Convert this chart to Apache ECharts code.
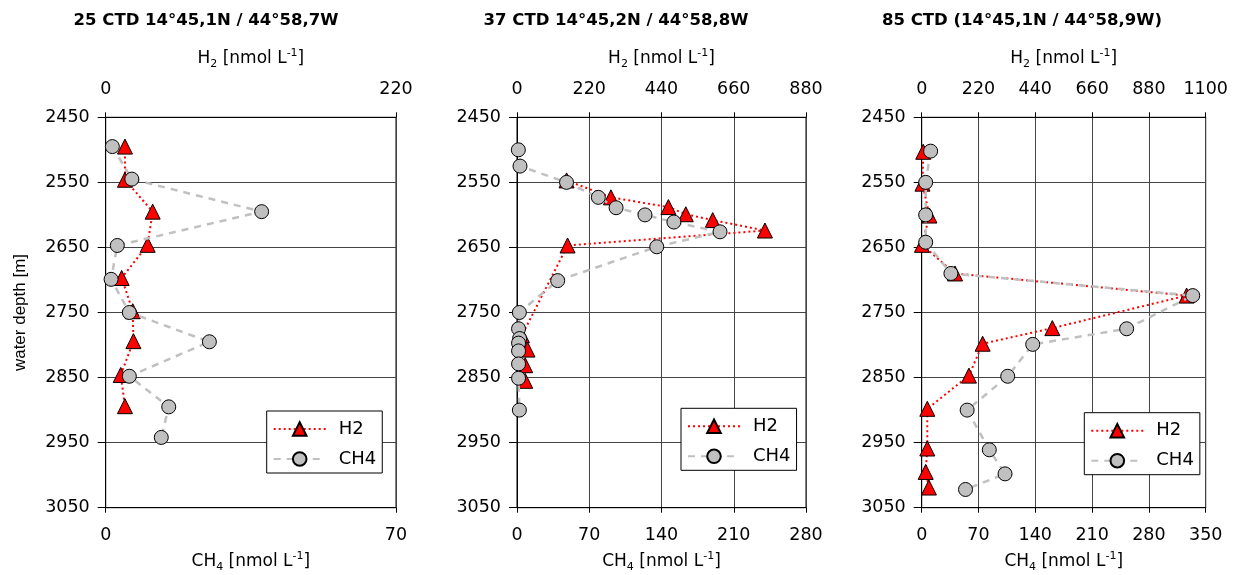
<!DOCTYPE html>
<html><head><meta charset="utf-8">
<script src="https://cdn.jsdelivr.net/npm/echarts@6/dist/echarts.min.js"></script>
<style>html,body{margin:0;padding:0;background:#fff}#c{width:1240px;height:575px}</style>
</head><body><div id="c"></div>
<script>
// ---------- data ----------
const titles = ['25 CTD 14°45,1N / 44°58,7W', '37 CTD 14°45,2N / 44°58,8W', '85 CTD (14°45,1N / 44°58,9W)'];
const depthMin = 2450, depthMax = 3050, depthStep = 100;
const ch4Max = [70, 280, 350];
const ch4Step = [70, 70, 70];
const h2Max = [220, 880, 1100];
const h2Step = [220, 220, 220];

// 25 CTD
const p1_h2_depth  = [2495, 2546, 2595, 2646, 2697, 2748, 2794, 2846, 2894];
const p1_h2        = [14.6, 14.6, 35.6, 31.8, 12.1, 20.5, 21.0, 11.4, 14.6];
const p1_ch4_depth = [2495, 2545, 2595, 2647, 2699, 2750, 2795, 2848, 2895, 2942];
const p1_ch4       = [1.6, 6.3, 37.6, 2.8, 1.3, 5.7, 25.0, 5.7, 15.2, 13.4];

// 37 CTD
const p2_h2_depth  = [2547, 2573, 2588, 2599, 2608, 2624, 2647, 2785, 2807, 2831, 2855];
const p2_h2        = [151, 286, 461, 514, 596, 755, 154, 15, 32, 25, 25];
const p2_ch4_depth = [2500, 2525, 2550, 2573, 2589, 2600, 2611, 2626, 2649, 2701, 2750, 2775, 2790, 2797, 2809, 2829, 2851, 2900];
const p2_ch4       = [1.3, 2.9, 48, 78.8, 96, 124, 152, 196.7, 135.4, 39.4, 2.3, 1.5, 2.5, 1.5, 1.5, 1.5, 1.5, 2.3];

// 85 CTD
const p3_h2_depth  = [2503, 2552, 2601, 2646, 2690, 2724, 2774, 2798, 2847, 2898, 2959, 2995, 3019];
const p3_h2        = [6, 3, 30, 1, 129, 1026, 506, 236, 183, 21.7, 21.7, 15.5, 28];
const p3_ch4_depth = [2502, 2550, 2600, 2642, 2690, 2724, 2775, 2799, 2848, 2900, 2961, 2998, 3022];
const p3_ch4       = [11, 4.9, 4.9, 4.9, 36, 334, 252.6, 136.8, 106, 56, 83.3, 102.7, 54];

const panels = [
  {h2d: p1_h2_depth, h2: p1_h2, cd: p1_ch4_depth, c: p1_ch4},
  {h2d: p2_h2_depth, h2: p2_h2, cd: p2_ch4_depth, c: p2_ch4},
  {h2d: p3_h2_depth, h2: p3_h2, cd: p3_ch4_depth, c: p3_ch4}
];

// ---------- layout ----------
const FONT = 'DejaVu Sans';
const gridL = [105.7, 517, 921.7];
const gridW = [290.3, 289, 284];
const gridTop = 117.3, gridH = 390.4;
const titleX = [206, 616, 1022];
const legL = [266.7, 681, 1084.3];
const legT = [411, 408.3, 412.7];

const richName = {
  a: {fontSize: 17, lineHeight: 22, fontFamily: FONT, color: '#000'},
  s: {fontSize: 11, lineHeight: 12, verticalAlign: 'bottom', fontFamily: FONT, color: '#000'},
  p: {fontSize: 11, lineHeight: 12, verticalAlign: 'top', fontFamily: FONT, color: '#000'}
};
const plain = v => String(v);

const grid = [], xAxis = [], yAxis = [], series = [], legend = [], graphic = [];
const axisLineStyle = {show: true, onZero: false, lineStyle: {color: '#000', width: 1}};
for (let i = 0; i < 3; i++) {
  grid.push({left: gridL[i], top: gridTop, width: gridW[i], height: gridH, show: true,
    borderColor: '#000', borderWidth: 1, backgroundColor: 'transparent', containLabel: false,
    outerBoundsMode: 'none'});
  xAxis.push({
    gridIndex: i, type: 'value', position: 'bottom', min: 0, max: ch4Max[i], interval: ch4Step[i],
    axisLine: axisLineStyle,
    axisTick: {show: true, inside: false, length: 5, lineStyle: {color: '#000'}},
    axisLabel: {fontSize: 17.5, color: '#000', fontFamily: FONT, margin: 19, formatter: plain},
    splitLine: {show: true, lineStyle: {color: '#444', width: 1}},
    name: '{a|CH}{s|4}{a| [nmol L}{p|-1}{a|]}', nameLocation: 'middle', nameGap: 43,
    nameTextStyle: {rich: richName}
  });
  xAxis.push({
    gridIndex: i, type: 'value', position: 'top', min: 0, max: h2Max[i], interval: h2Step[i],
    axisLine: axisLineStyle,
    axisTick: {show: true, inside: false, length: 5, lineStyle: {color: '#000'}},
    axisLabel: {fontSize: 17.5, color: '#000', fontFamily: FONT, margin: 19, formatter: plain},
    splitLine: {show: false},
    name: '{a|H}{s|2}{a| [nmol L}{p|-1}{a|]}', nameLocation: 'middle', nameGap: 48,
    nameTextStyle: {rich: richName}
  });
  const y = {
    gridIndex: i, type: 'value', inverse: true, min: depthMin, max: depthMax, interval: depthStep,
    axisLine: axisLineStyle,
    axisTick: {show: true, inside: false, length: 8, lineStyle: {color: '#000'}},
    axisLabel: {fontSize: 17.5, color: '#000', fontFamily: FONT, margin: 16, formatter: plain},
    splitLine: {show: true, lineStyle: {color: '#444', width: 1}}
  };
  if (i === 0) {
    y.name = 'water depth [m]';
    y.nameLocation = 'middle';
    y.nameGap = 77;
    y.nameTextStyle = {fontSize: 17, fontFamily: 'Liberation Sans', color: '#000'};
  }
  yAxis.push(y);

  const P = panels[i];
  series.push({
    type: 'line', name: 'H2', xAxisIndex: 2 * i + 1, yAxisIndex: i,
    data: P.h2.map((v, k) => [v, P.h2d[k]]),
    symbol: 'triangle', symbolSize: 15,
    itemStyle: {color: '#ff0000', borderColor: '#000', borderWidth: 1},
    lineStyle: {color: '#ff0000', width: 2, type: [2, 3]},
    z: 2
  });
  series.push({
    type: 'line', name: 'CH4', xAxisIndex: 2 * i, yAxisIndex: i,
    data: P.c.map((v, k) => [v, P.cd[k]]),
    symbol: 'circle', symbolSize: 14,
    itemStyle: {color: '#c0c0c0', borderColor: '#000', borderWidth: 1},
    lineStyle: {color: '#c0c0c0', width: 2.5, type: [7, 6]},
    z: 3
  });
  legend.push({
    left: legL[i], top: legT[i], orient: 'vertical', data: ['H2', 'CH4'],
    backgroundColor: '#fff', borderColor: '#000', borderWidth: 1, borderRadius: 0,
    padding: [9, 6, 5, 6], itemWidth: 52, itemHeight: 17, itemGap: 12,
    selectedMode: false,
    textStyle: {fontSize: 18, color: '#000', fontFamily: FONT, padding: [0, 0, 0, 8]}
  });
  graphic.push({
    type: 'text', x: titleX[i], y: 21,
    style: {text: titles[i], fontSize: 16.5, fontWeight: 'bold', fontFamily: FONT, fill: '#000',
      align: 'center', verticalAlign: 'middle'}
  });
}

const chart = echarts.init(document.getElementById('c'), null, {renderer: 'canvas'});
chart.setOption({
  animation: false,
  backgroundColor: '#fff',
  grid, xAxis, yAxis, series, legend, graphic
});
</script></body></html>
